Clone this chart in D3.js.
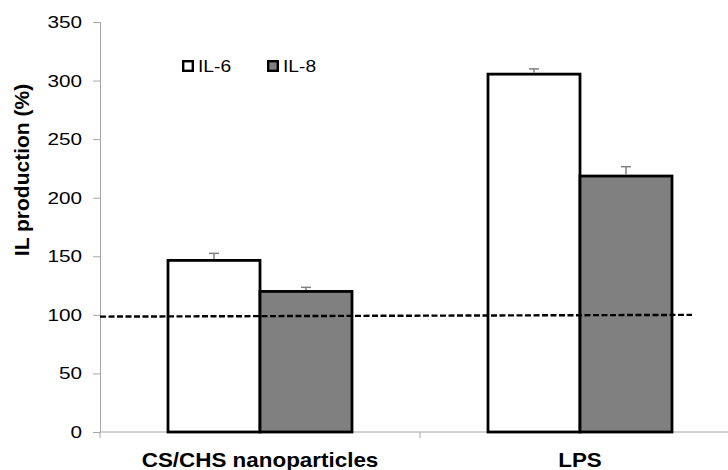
<!DOCTYPE html>
<html><head><meta charset="utf-8">
<script src="https://cdn.jsdelivr.net/npm/d3@7"></script>
<style>body{margin:0;background:#fff}svg{display:block}</style>
</head><body><svg id="c" width="728" height="470"></svg>
<script>
const categories = ["CS/CHS nanoparticles", "LPS"];
const seriesNames = ["IL-6", "IL-8"];
const il6 = [146.5, 305.5];
const il6Err = [6, 4.5];
const il8 = [120, 218.5];
const il8Err = [3.5, 8];
const yTicks = [0, 50, 100, 150, 200, 250, 300, 350];
const baselineValues = [98.5, 100];

(function(){
const svg = d3.select("#c");
const font = "'Liberation Sans', Arial, sans-serif";
const mLeft = 100, mRight = 740, mTop = 22, mBottom = 432;
const y = d3.scaleLinear().domain([0, 350]).range([mBottom, mTop]);
const x = d3.scaleBand().domain(categories).range([mLeft, mRight]);
const inner = d3.scaleBand().domain(seriesNames).range([x.bandwidth()*0.2125, x.bandwidth()*0.7875]);
const fills = ["#ffffff", "#808080"];
const vals = [il6, il8], errs = [il6Err, il8Err];

// y axis
const yAxis = svg.append("g").attr("transform", `translate(${mLeft},0)`)
  .call(d3.axisLeft(y).tickValues(yTicks).tickSize(7).tickFormat(() => ""));
yAxis.select(".domain").attr("stroke", "#a6a6a6");
yAxis.selectAll(".tick line").attr("stroke", "#a6a6a6");
yTicks.forEach(t => svg.append("text")
  .attr("transform", `translate(82,${y(t) + 6}) scale(1.22,1)`)
  .attr("text-anchor", "end").attr("font-family", font).attr("font-size", 17).attr("fill", "#000").text(t));

// x axis
svg.append("line").attr("x1", mLeft).attr("x2", 728).attr("y1", mBottom).attr("y2", mBottom).attr("stroke", "#a6a6a6");
[mLeft, x(categories[1])].forEach(v => svg.append("line").attr("x1", v).attr("x2", v).attr("y1", mBottom).attr("y2", mBottom + 6).attr("stroke", "#a6a6a6"));
categories.forEach(c => svg.append("text")
  .attr("transform", `translate(${x(c) + x.bandwidth()/2},467) scale(1.15,1)`)
  .attr("text-anchor", "middle").attr("font-family", font).attr("font-weight", "bold").attr("font-size", 19.5).text(c));

// bars
seriesNames.forEach((s, si) => {
  categories.forEach((c, ci) => {
    const bx = x(c) + inner(s);
    svg.append("rect").attr("x", bx).attr("y", y(vals[si][ci])).attr("width", inner.bandwidth())
      .attr("height", y(0) - y(vals[si][ci])).attr("fill", fills[si]).attr("stroke", "#000").attr("stroke-width", 2.8);
    const cx = bx + inner.bandwidth()/2;
    const t = y(vals[si][ci] + errs[si][ci]);
    svg.append("line").attr("x1", cx).attr("x2", cx).attr("y1", y(vals[si][ci]) - 1.4).attr("y2", t).attr("stroke", "#808080").attr("stroke-width", 1.5);
    svg.append("line").attr("x1", cx - 5).attr("x2", cx + 5).attr("y1", t).attr("y2", t).attr("stroke", "#808080").attr("stroke-width", 1.5);
  });
});

// dashed baseline
svg.append("line").attr("x1", mLeft).attr("x2", 692).attr("y1", y(baselineValues[0])).attr("y2", y(baselineValues[1]))
  .attr("stroke", "#000").attr("stroke-width", 2.4).attr("stroke-dasharray", "6,2.5");

// legend
const lg = [[182, 0], [267, 1]];
lg.forEach(([lx, i]) => {
  svg.append("rect").attr("x", lx + 1.2).attr("y", 61.2).attr("width", 9.6).attr("height", 9.6)
    .attr("fill", fills[i]).attr("stroke", "#000").attr("stroke-width", 2.4);
  svg.append("text").attr("transform", `translate(${lx + 16},72) scale(1.2,1)`)
    .attr("font-family", font).attr("font-size", 16).text(seriesNames[i]);
});

// y label
svg.append("text").attr("transform", `translate(29,170) rotate(-90)`).attr("text-anchor", "middle")
  .attr("font-family", font).attr("font-weight", "bold").attr("font-size", 21).text("IL production (%)");
})();
</script></body></html>
